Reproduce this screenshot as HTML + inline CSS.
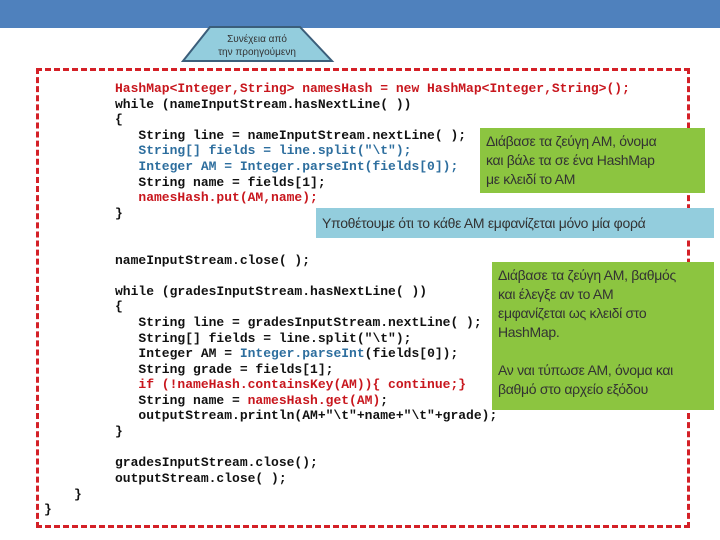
<!DOCTYPE html>
<html><head><meta charset="utf-8"><style>
body{margin:0;width:720px;height:540px;background:#fff;position:relative;overflow:hidden;font-family:"Liberation Sans","DejaVu Sans",sans-serif}
.bar{position:absolute;left:0;top:0;width:720px;height:28px;background:#4f81bd}
.box{position:absolute;left:36px;top:68px;width:648px;height:454px;border:3px dashed #d42027}
.code{position:absolute;left:115px;font-family:"Liberation Mono",monospace;font-weight:bold;font-size:13px;line-height:15.6px;white-space:pre;color:#111}
.r{color:#c8161d}.b{color:#2d6e9e}
.note{position:absolute;font-size:14px;color:#333;line-height:19px;padding:4px 6px;box-sizing:border-box;letter-spacing:-0.3px;white-space:nowrap}
.g{background:#8cc540}.lb{background:#93cddd}
</style></head><body>
<div class="bar"></div>
<div class="box"></div>
<svg style="position:absolute;left:0;top:0" width="720" height="80"><polygon points="210,27 300,27 332,61 183,61" fill="#93cddd" stroke="#3b5e7a" stroke-width="2"/>
<text x="257" y="42" font-size="10" text-anchor="middle" fill="#333" font-family="Liberation Sans,sans-serif">Συνέχεια από</text>
<text x="257" y="55" font-size="10" text-anchor="middle" fill="#333" font-family="Liberation Sans,sans-serif">την προηγούμενη</text></svg>
<div class="code" style="top:81px"><span class="r">HashMap&lt;Integer,String&gt; namesHash = new HashMap&lt;Integer,String&gt;();</span>
while (nameInputStream.hasNextLine( ))
{
   String line = nameInputStream.nextLine( );
   <span class="b">String[] fields = line.split("\t");</span>
   <span class="b">Integer AM = Integer.parseInt(fields[0]);</span>
   String name = fields[1];
   <span class="r">namesHash.put(AM,name);</span>
}


nameInputStream.close( );

while (gradesInputStream.hasNextLine( ))
{
   String line = gradesInputStream.nextLine( );
   String[] fields = line.split("\t");
   Integer AM = <span class="b">Integer.parseInt</span>(fields[0]);
   String grade = fields[1];
   <span class="r">if (!nameHash.containsKey(AM)){ continue;}</span>
   String name = <span class="r">namesHash.get(AM)</span>;
   outputStream.println(AM+"\t"+name+"\t"+grade);
}

gradesInputStream.close();
outputStream.close( );
</div>
<div class="code" style="left:74px;top:487px">}</div>
<div class="code" style="left:44px;top:502px">}</div>
<div class="note g" style="left:480px;top:128px;width:225px;height:65px;padding-top:4px">Διάβασε τα ζεύγη ΑΜ, όνομα<br>και βάλε τα σε ένα HashMap<br>με κλειδί το ΑΜ</div>
<div class="note lb" style="left:316px;top:208px;width:398px;height:30px;padding-top:6px">Υποθέτουμε ότι το κάθε ΑΜ εμφανίζεται μόνο μία φορά</div>
<div class="note g" style="left:492px;top:262px;width:222px;height:148px">Διάβασε τα ζεύγη ΑΜ, βαθμός<br>και έλεγξε αν το ΑΜ<br>εμφανίζεται ως κλειδί στο<br>HashMap.<br><br>Αν ναι τύπωσε ΑΜ, όνομα και<br>βαθμό στο αρχείο εξόδου</div>
</body></html>
